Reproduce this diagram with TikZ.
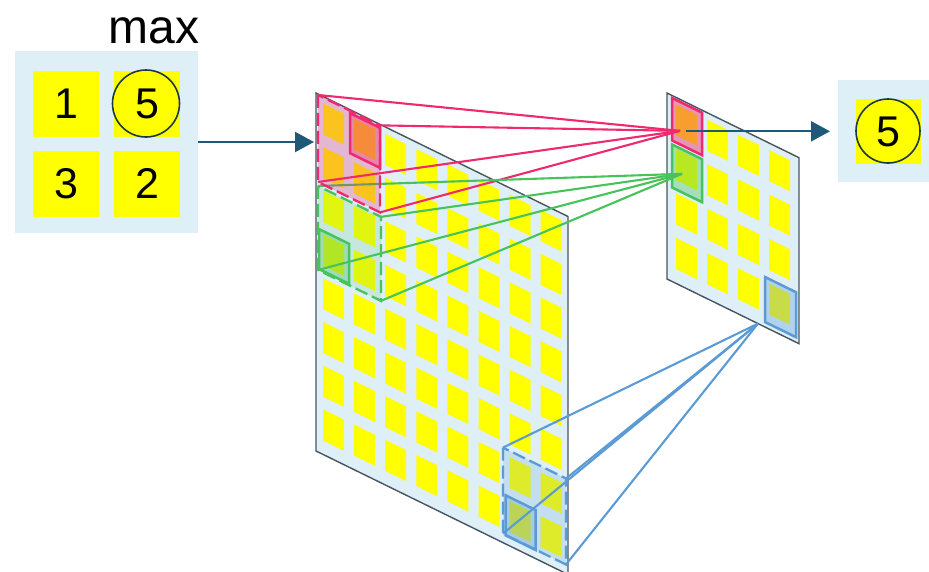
\documentclass[tikz,border=0pt]{standalone}
\usepackage{fontspec}
\setmainfont{Liberation Sans}
\usetikzlibrary{arrows.meta}
\definecolor{panelbg}{RGB}{222,239,248}
\definecolor{panelln}{RGB}{70,85,95}
\definecolor{cellyel}{RGB}{255,255,0}
\definecolor{redc}{RGB}{240,40,110}
\definecolor{greenc}{RGB}{70,195,90}
\definecolor{bluec}{RGB}{91,155,213}
\definecolor{arrowc}{RGB}{30,90,120}
\definecolor{ringc}{RGB}{30,55,70}
\begin{document}
\begin{tikzpicture}[x=1pt,y=-1pt,
  panel/.style={fill=panelbg, draw=panelln, line width=1.4pt},
  ycell/.style={fill=cellyel},
  bgbox/.style={fill=panelbg, inner sep=0pt, draw=none},
  numcell/.style={fill=cellyel, inner sep=0pt, minimum size=66pt, font=\fontsize{43}{43}\selectfont},
  ring/.style={circle, draw=ringc, line width=1.6pt, inner sep=0pt},
  link/.style={line width=2.1pt},
  region/.style={line width=2.3pt, dash pattern=on 13pt off 5pt},
  solidframe/.style={line width=2.5pt},
  arr/.style={draw=arrowc, line width=2.2pt, -{Triangle[length=19pt,width=20pt]}}
]
\clip (0,0) rectangle (929,571);
% input window
\node[bgbox, minimum width=183pt, minimum height=182pt] (inbox) at (106.5,142) {};
\node[numcell] (n1) at (66,103.5) {1};
\node[numcell] (n5) at (147,103.5) {5};
\node[numcell] (n3) at (66,183.5) {3};
\node[numcell] (n2) at (147,183.5) {2};
\node[ring, minimum size=67pt] (ring1) at (146,103.5) {};
\node[font=\fontsize{48}{48}\selectfont, anchor=base, inner sep=0pt] (maxlbl) at (154,43) {max};

% large feature map
\begin{scope}[cm={1,-0.49,0,1,(316pt,-93pt)}]
  \draw[panel] (0,0) rectangle (252,358);
  \foreach \i in {0,...,7}{\foreach \j in {0,...,7}{
    \fill[ycell] ({7+31.1*\i},{7+43.7*\j}) rectangle ({28+31.1*\i},{38+43.7*\j});}}
  \coordinate (R1) at (2,1);   \coordinate (R2) at (64,1);
  \coordinate (R3) at (2,88);  \coordinate (R4) at (64,88);
  \coordinate (G1) at (2,92);  \coordinate (G2) at (65,92);
  \coordinate (G3) at (2,176); \coordinate (G4) at (65,176);
  \coordinate (B1) at (187,263); \coordinate (B2) at (250,263);
  \coordinate (B3) at (187,349); \coordinate (B4) at (250,349);
  \coordinate (inTip) at (-2,49);
\end{scope}

% small feature map
\begin{scope}[cm={1,-0.49,0,1,(667pt,-93pt)}]
  \draw[panel] (0,0) rectangle (132,186);
  \foreach \i in {0,...,3}{\foreach \j in {0,...,3}{
    \fill[ycell] ({9+31*\i},{7+44.5*\j}) rectangle ({30+31*\i},{38+44.5*\j});}}
  \coordinate (sR) at (13,31.5);
  \coordinate (sG) at (15,73.5);
  \coordinate (sB) at (91,186);
  \coordinate (sArr) at (19,29);
\end{scope}

% connectors
\foreach \c in {R1,R2,R3,R4}{\draw[link, draw=redc] (\c) -- (sR);}
\foreach \c in {G1,G2,G3,G4}{\draw[link, draw=greenc] (\c) -- (sG);}
\foreach \c in {B1,B2,B3,B4}{\draw[link, draw=bluec] (\c) -- (sB);}

% pooling windows on the large map
\begin{scope}[cm={1,-0.49,0,1,(316pt,-93pt)}]
  \filldraw[region, draw=redc, fill=redc, fill opacity=0.28] (2,1) rectangle (64,88);
  \filldraw[solidframe, draw=redc, fill=redc, fill opacity=0.35] (34.1,3.5) rectangle (64.1,43.5);
  \filldraw[region, draw=greenc, fill=greenc, fill opacity=0.16] (2,92) rectangle (65,176);
  \filldraw[solidframe, draw=greenc, fill=greenc, fill opacity=0.3] (3,134.6) rectangle (33,174.6);
  \filldraw[region, draw=bluec, fill=bluec, fill opacity=0.2] (187,263) rectangle (250,349);
  \filldraw[solidframe, draw=bluec, fill=bluec, fill opacity=0.28] (189.6,309.4) rectangle (219.6,349.4);
\end{scope}

% pooled cells on the small map
\begin{scope}[cm={1,-0.49,0,1,(667pt,-93pt)}]
  \filldraw[solidframe, draw=redc, fill=redc, fill opacity=0.45] (5,2.5) rectangle (35,45);
  \filldraw[solidframe, draw=greenc, fill=greenc, fill opacity=0.38] (5,49) rectangle (35,92);
  \filldraw[solidframe, draw=bluec, fill=bluec, fill opacity=0.34] (98,136) rectangle (129,181);
\end{scope}

% output
\node[bgbox, minimum width=100pt, minimum height=102pt, anchor=west] (outbox) at (838,131) {};
\node[numcell, minimum size=65pt] (o5) at (888.5,131.5) {5};
\node[ring, minimum size=64pt] (ring2) at (888,131) {};

% arrows
\draw[arr] (inbox.east) -- (inbox.east -| inTip);
\draw[arr, shorten >=8pt] (sArr) -- (sArr -| outbox.west);
\end{tikzpicture}
\end{document}
